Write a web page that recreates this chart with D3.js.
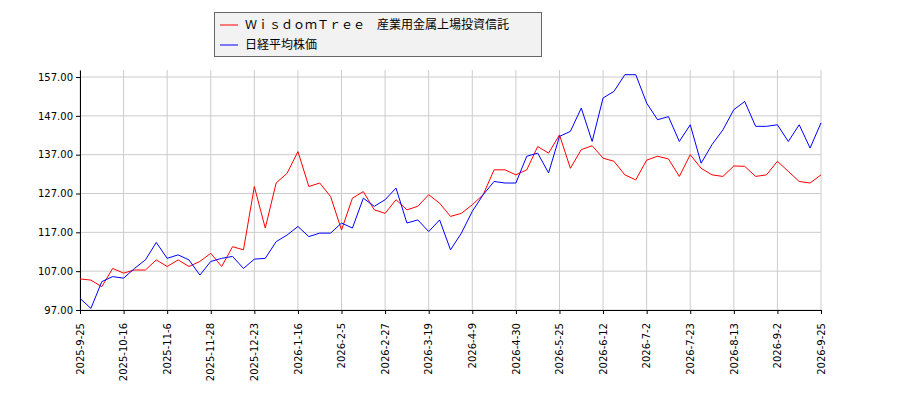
<!DOCTYPE html>
<html><head><meta charset="utf-8">
<script src="https://cdn.jsdelivr.net/npm/d3@7"></script>
<style>body{margin:0;background:#fff;font-family:"DejaVu Sans",sans-serif;}</style>
</head><body><svg id="c" width="900" height="400"></svg>
<script>
const tickLabels=["2025-9-25","2025-10-16","2025-11-6","2025-11-28","2025-12-23","2026-1-16","2026-2-5","2026-2-27","2026-3-19","2026-4-9","2026-4-30","2026-5-25","2026-6-12","2026-7-2","2026-7-23","2026-8-13","2026-9-2","2026-9-25"];
const yTicks=[97,107,117,127,137,147,157];
const seriesNames=["ＷｉｓｄｏｍＴｒｅｅ　産業用金属上場投資信託","日経平均株価"];
const etf=[105,104.7,103,107.7,106.5,107.3,107.3,109.9,108.2,109.9,108.2,109.5,111.6,108.2,113.3,112.5,128.8,118.1,129.7,132.2,137.8,128.8,129.7,126.2,117.6,125.8,127.5,122.8,121.9,125.4,122.8,123.7,126.7,124.5,121.1,121.9,124.1,126.7,133.1,133.1,131.8,133.1,139.1,137.4,142.1,133.5,138.3,139.3,136.1,135.3,131.8,130.5,135.6,136.6,135.9,131.4,137.0,133.5,131.8,131.4,134.1,134.0,131.4,131.8,135.3,132.7,130.1,129.7,131.8];
const nikkei=[100,97.4,104.3,105.6,105.2,107.7,109.9,114.4,110.3,111.2,109.9,106,109.5,110.3,110.8,107.7,110.1,110.3,114.6,116.3,118.5,115.9,116.8,116.8,119.4,118.1,125.8,123.7,125.4,128.4,119.4,120.2,117.2,120.2,112.5,116.8,122.4,126.7,130.1,129.7,129.7,136.6,137.4,132.3,141.7,143.0,149.0,140.4,151.6,153.3,157.6,157.6,150.3,146.0,146.8,140.4,144.7,134.8,139.6,143.4,148.6,150.7,144.3,144.3,144.7,140.4,144.7,138.7,145.2];
const svg=d3.select("#c");
const L=80,R=821,T=70,B=310;
const x=d3.scaleLinear().domain([0,etf.length-1]).range([L,R]);
const y=d3.scaleLinear().domain([97,97+(B-T)/3.883]).range([B,T]);
const g=svg.append("g");
tickLabels.forEach((t,i)=>{const xx=x(i*4);g.append("line").attr("x1",xx).attr("x2",xx).attr("y1",T).attr("y2",B).attr("stroke","#ccc");});
yTicks.forEach(v=>{g.append("line").attr("x1",L).attr("x2",R).attr("y1",y(v)).attr("y2",y(v)).attr("stroke","#ccc");});
const ya=svg.append("g").attr("transform",`translate(${L},0)`).call(d3.axisLeft(y).tickValues(yTicks).tickFormat(d3.format(".2f")).tickSize(4).tickSizeOuter(0));
const xa=svg.append("g").attr("transform",`translate(0,${B})`).call(d3.axisBottom(x).tickValues(tickLabels.map((d,i)=>i*4)).tickFormat((d,i)=>tickLabels[i]).tickSize(4).tickSizeOuter(0));
[ya,xa].forEach(a=>{a.selectAll("text").attr("font-size",10).attr("fill","#000").attr("font-family","DejaVu Sans");a.selectAll("path,line").attr("stroke","#000");});
xa.selectAll("text").attr("transform","rotate(-90)").attr("text-anchor","end").attr("dx","-6").attr("dy","-0.3em").attr("x",0).attr("y",0).attr("transform",function(){return "rotate(-90)";});
xa.selectAll(".tick text").attr("y",0).attr("x",-7).attr("dy","0.32em");
const line=d3.line().x((d,i)=>x(i)).y(d=>y(d));
svg.append("path").datum(etf).attr("d",line).attr("fill","none").attr("stroke","#ff0000").attr("stroke-width",1);
svg.append("path").datum(nikkei).attr("d",line).attr("fill","none").attr("stroke","#0000ff").attr("stroke-width",1);
const lg=svg.append("g");
lg.append("rect").attr("x",214.5).attr("y",12.5).attr("width",327).attr("height",44).attr("fill","#f2f2f2").attr("stroke","#666");
["#ff0000","#0000ff"].forEach((c,i)=>{
 lg.append("line").attr("x1",220).attr("x2",238).attr("y1",25+i*20).attr("y2",25+i*20).attr("stroke",c);
 lg.append("text").attr("x",245).attr("y",29+i*20).attr("font-size",12).attr("font-family","Noto Sans CJK JP").text(seriesNames[i]);
});
</script></body></html>
